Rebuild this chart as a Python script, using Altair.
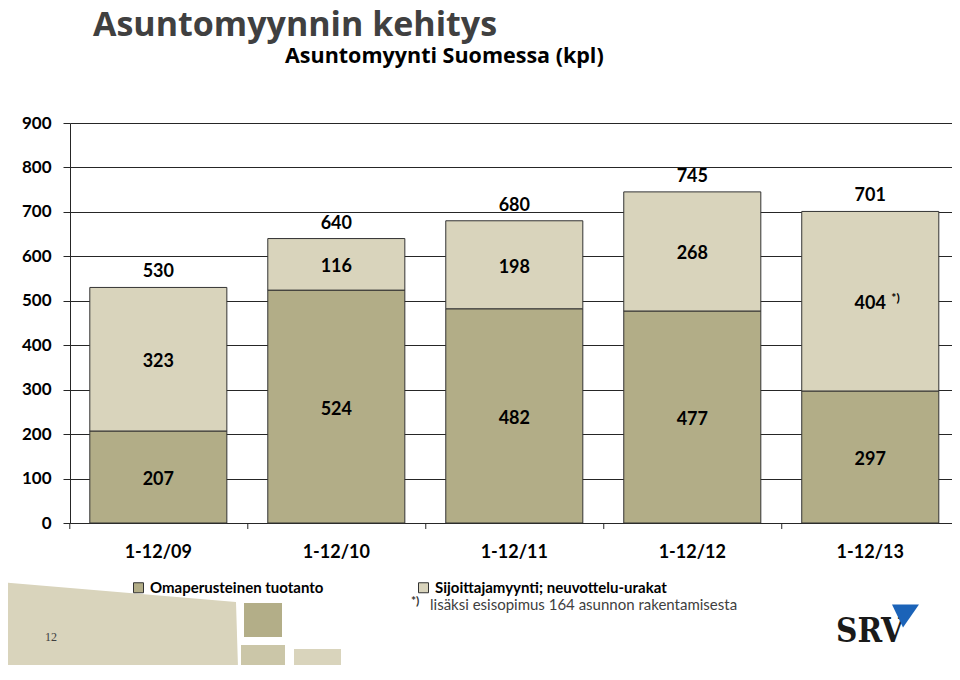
import altair as alt
import pandas as pd

# ---- data ----
categories = ["1-12/09", "1-12/10", "1-12/11", "1-12/12", "1-12/13"]
own_production = [207, 524, 482, 477, 297]        # Omaperusteinen tuotanto
investor_sales = [323, 116, 198, 268, 404]        # Sijoittajamyynti; neuvottelu-urakat
totals = [530, 640, 680, 745, 701]
investor_notes = ["", "", "", "", "*)"]
series_names = ["Omaperusteinen tuotanto", "Sijoittajamyynti; neuvottelu-urakat"]
series_colors = ["#b2ad87", "#d9d4bc"]
y_ticks = [0, 100, 200, 300, 400, 500, 600, 700, 800, 900]

title_text = "Asuntomyynnin kehitys"
subtitle_text = "Asuntomyynti Suomessa (kpl)"
footnote_mark = "*)"
footnote_text = "lisäksi esisopimus 164 asunnon rakentamisesta"
page_number = "12"
logo_text = "SRV"

# ---- tables ----
rows = []
for i, c in enumerate(categories):
    o, s = own_production[i], investor_sales[i]
    rows.append(dict(category=c, series=series_names[0], y0=0, y1=o, mid=o / 2,
                     label=str(o), note=""))
    rows.append(dict(category=c, series=series_names[1], y0=o, y1=o + s, mid=o + s / 2,
                     label=str(s), note=investor_notes[i]))
df = pd.DataFrame(rows)
tot = pd.DataFrame({"category": categories, "total": totals})
one = pd.DataFrame({"k": [0]})

FONT = "Lato"
INK = "#262626"

xscale = alt.Scale(domain=categories, paddingInner=0.23, paddingOuter=0.0927, align=0.6)
yscale = alt.Scale(domain=[0, 900], nice=False)

x_enc = alt.X("category:N", scale=xscale, sort=categories,
              axis=alt.Axis(title=None, labelAngle=0, labelFont=FONT, labelFontWeight="bold",
                            labelFontSize=18, labelColor="black", labelPadding=20,
                            domainColor=INK, ticks=False))
y_axis = alt.Axis(title=None, values=y_ticks, grid=True, gridColor=INK, gridWidth=1,
                  domainColor=INK, tickColor=INK, tickSize=7, labelFont=FONT,
                  labelFontWeight="bold", labelFontSize=17, labelColor="black",
                  labelPadding=12)

bars = alt.Chart(df).mark_bar(stroke="#333333", strokeWidth=1).encode(
    x=x_enc,
    y=alt.Y("y0:Q", scale=yscale, axis=y_axis),
    y2="y1:Q",
    color=alt.Color("series:N", scale=alt.Scale(domain=series_names, range=series_colors),
                    legend=alt.Legend(title=None, orient="none", legendX=61, legendY=457,
                                      direction="horizontal", symbolType="square",
                                      symbolSize=100, symbolStrokeColor="#333333",
                                      symbolStrokeWidth=1, labelFont=FONT,
                                      labelFontWeight="bold", labelFontSize=15,
                                      labelColor="black", labelLimit=400, labelOffset=4,
                                      columnPadding=92, padding=0)),
)

# small category separator ticks below the baseline, centred in the gaps between bars
sep_ticks = alt.Chart(tot).mark_rule(color=INK, strokeWidth=1, xOffset=-20).encode(
    x=alt.X("category:N", scale=xscale, sort=categories, bandPosition=0),
    y=alt.value(400), y2=alt.value(406),
)

seg_labels = alt.Chart(df).mark_text(font=FONT, fontWeight="bold", fontSize=18,
                                     color="black", baseline="middle", dy=3).encode(
    x=alt.X("category:N", scale=xscale, sort=categories),
    y=alt.Y("mid:Q", scale=yscale),
    text="label:N",
)
notes = alt.Chart(df).mark_text(font=FONT, fontWeight="bold", fontSize=12, color="black",
                                align="left", baseline="middle", dx=21, dy=-3).encode(
    x=alt.X("category:N", scale=xscale, sort=categories),
    y=alt.Y("mid:Q", scale=yscale),
    text="note:N",
)
total_labels = alt.Chart(tot).mark_text(font=FONT, fontWeight="bold", fontSize=18,
                                        color="black", baseline="middle", dy=-15).encode(
    x=alt.X("category:N", scale=xscale, sort=categories),
    y=alt.Y("total:Q", scale=yscale),
    text="total:Q",
)

def txt(text, x, y, **kw):
    return alt.Chart(one).mark_text(text=text, **kw).encode(x=alt.value(x), y=alt.value(y))

title = txt(title_text, 23, -87, font="Open Sans", fontWeight="bold", fontSize=34,
            color="#404040", align="left", baseline="alphabetic")
subtitle = txt(subtitle_text, 215, -60, font="Open Sans", fontWeight="bold", fontSize=21.5,
               color="black", align="left", baseline="alphabetic")
fn_mark = txt(footnote_mark, 341, 482, font=FONT, fontWeight="bold", fontSize=12,
              color="#333333", align="left", baseline="alphabetic")
fn_text = txt(footnote_text, 360, 487, font=FONT, fontSize=15, color="#404040",
              align="left", baseline="alphabetic")
page = txt(page_number, -19, 514, font="Liberation Serif", fontSize=12, color="#404040",
           align="center", baseline="middle")
logo = txt(logo_text, 766, 519, font="DejaVu Serif Condensed", fontWeight="bold",
           fontSize=33, color="#1a1a1a", align="left", baseline="alphabetic")

def shape(path, size, x, y, color):
    return alt.Chart(one).mark_point(shape=path, size=size, filled=True, opacity=1,
                                     strokeWidth=0, color=color).encode(
        x=alt.value(x), y=alt.value(y))

def box(x, x2, y, y2, color):
    return alt.Chart(one).mark_rect(color=color).encode(
        x=alt.value(x), x2=alt.value(x2), y=alt.value(y), y2=alt.value(y2))

deco_big = shape("M-1,-0.415 L1,-0.246 L1.02,0.415 L-1,0.415 Z", 55696, 48, 508, "#d9d4bc")
deco_dark = box(174, 212, 480, 514, "#b3ae88")
deco_mid = box(171, 215, 522, 557, "#cbc6a8")
deco_light = box(224, 271, 526, 557, "#d9d4bc")
triangle = shape("M-1,-0.85 L1,-0.85 L-0.185,0.85 Z", 729, 835.5, 493, "#1b63b8")

chart = alt.layer(
    deco_big, deco_dark, deco_mid, deco_light, page,
    bars, sep_ticks, seg_labels, notes, total_labels,
    title, subtitle, fn_mark, fn_text, logo, triangle,
).properties(
    width=882, height=400,
    autosize=alt.AutoSizeParams(type="none"),
    padding={"left": 62, "top": 115, "right": 0, "bottom": 142},
    background="white",
).configure_view(stroke=None)

chart.save("out.html", embed_options={"renderer": "svg", "actions": False})
